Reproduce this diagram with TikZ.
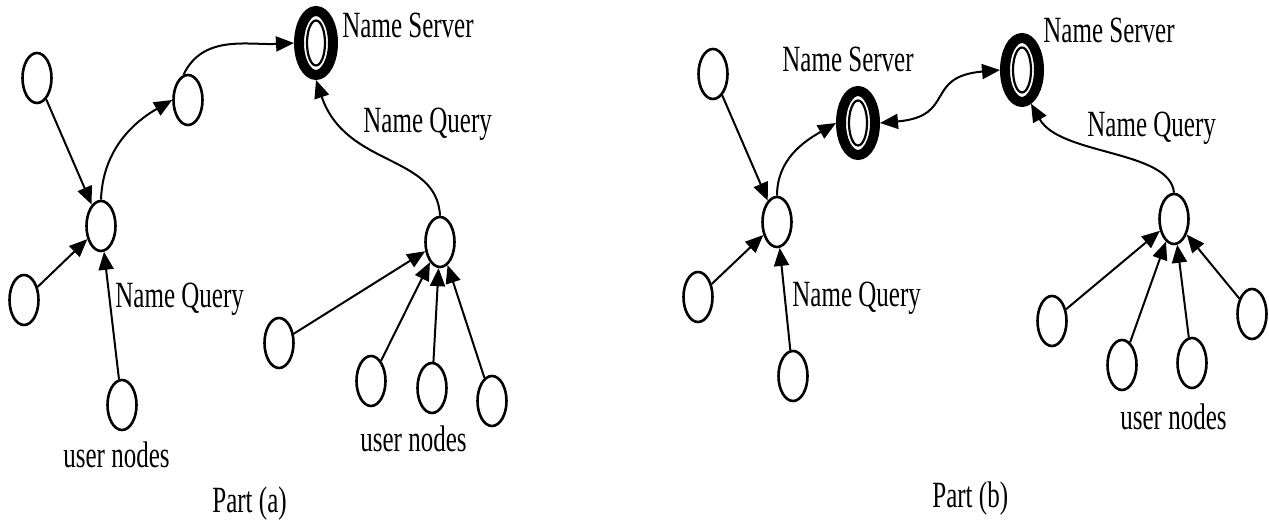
\documentclass[tikz,border=0pt]{standalone}
\usepackage{fontspec}
\setmainfont{Liberation Serif}
\usepackage{graphicx}
\usetikzlibrary{shapes.geometric,arrows.meta}
\newcommand{\vs}[1]{\scalebox{1}[1.48]{#1}}
\tikzset{
  usr/.style={ellipse, draw, line width=1.3pt, minimum width=14.5pt, minimum height=25pt, inner sep=0pt},
  nso/.style={ellipse, draw, line width=5pt, minimum width=17pt, minimum height=32pt, inner sep=0pt, fill=white},
  nsi/.style={ellipse, draw, line width=1.1pt, minimum width=9pt, minimum height=22.5pt, inner sep=0pt},
  arr/.style={line width=1pt, -{Triangle[length=9pt,width=7.5pt]}},
  darr/.style={line width=1pt, {Triangle[length=9pt,width=7.5pt]}-{Triangle[length=9pt,width=7.5pt]}},
  lbl/.style={anchor=base west, inner sep=0pt, font=\fontsize{12.5}{15}\selectfont}
}
\begin{document}
\begin{tikzpicture}[x=0.5pt,y=0.5pt]
\useasboundingbox (0,0) rectangle (1269,-522);
% ---------- Part (a) ----------
\node[usr] (a1) at (37,-78) {};
\node[usr] (a3) at (188,-100) {};
\node[usr] (a2) at (101,-226) {};
\node[nso] (nsa) at (316,-43) {};
\node[nsi] (nsai) at (316,-43) {};
\node[usr] (a4) at (24,-300) {};
\node[usr] (a5) at (122,-405) {};
\node[usr] (ar) at (440,-242) {};
\node[usr] (b1) at (279,-343) {};
\node[usr] (b2) at (371,-381) {};
\node[usr] (b3) at (432,-388) {};
\node[usr] (b4) at (492,-401) {};

\node[lbl] (lnsa) at (342,-38) {\vs{Name Server}};
\node[lbl] (lnqa1) at (363,-133) {\vs{Name Query}};
\node[lbl] (lnqa2) at (115,-308) {\vs{Name Query}};
\node[lbl] (luna1) at (63,-468) {\vs{user nodes}};
\node[lbl] (luna2) at (360,-452) {\vs{user nodes}};
\node[lbl] (lpa) at (212,-513) {\vs{Part (a)}};

\draw[arr] (a1) -- (a2);
\draw[arr] (a4) -- (a2);
\draw[arr] (a5) -- (a2);
\draw[arr] (a2.north) to[out=88, in=210] (a3.west);
\draw[arr] (a3.100) to[out=65, in=183] (nsa.west);
\draw[arr] (ar.north) .. controls +(-3,62) and +(30,-88) .. (nsa.south);
\draw[arr] (b1) -- (ar);
\draw[arr] (b2) -- (ar);
\draw[arr] (b3) -- (ar);
\draw[arr] (b4) -- (ar);

% ---------- Part (b) ----------
\node[usr] (c1) at (713,-74) {};
\node[usr] (c2) at (777,-222) {};
\node[nso] (nsb1) at (858,-123) {};
\node[nsi] (nsb1i) at (858,-123) {};
\node[nso] (nsb2) at (1022,-70) {};
\node[nsi] (nsb2i) at (1022,-70) {};
\node[usr] (c3) at (698,-297) {};
\node[usr] (c4) at (793,-376) {};
\node[usr] (dr) at (1174,-219) {};
\node[usr] (d1) at (1052,-321) {};
\node[usr] (d2) at (1122,-365) {};
\node[usr] (d3) at (1192,-363) {};
\node[usr] (d4) at (1252,-314) {};

\node[lbl] (lnsb1) at (782,-72) {\vs{Name Server}};
\node[lbl] (lnsb2) at (1043,-43) {\vs{Name Server}};
\node[lbl] (lnqb1) at (1087,-137) {\vs{Name Query}};
\node[lbl] (lnqb2) at (792,-307) {\vs{Name Query}};
\node[lbl] (lunb) at (1120,-430) {\vs{user nodes}};
\node[lbl] (lpb) at (932,-508) {\vs{Part (b)}};

\draw[arr] (c1) -- (c2);
\draw[arr] (c3) -- (c2);
\draw[arr] (c4) -- (c2);
\draw[arr] (c2.north) to[out=90, in=210] (nsb1.west);
\draw[darr] (nsb1.east) to[out=5, in=185, looseness=1.5] (nsb2.west);
\draw[arr] (dr.north) .. controls +(-4,43) and +(29,-52) .. (nsb2.-75);
\draw[arr] (d1) -- (dr);
\draw[arr] (d2) -- (dr);
\draw[arr] (d3) -- (dr);
\draw[arr] (d4) -- (dr);
\end{tikzpicture}
\end{document}
